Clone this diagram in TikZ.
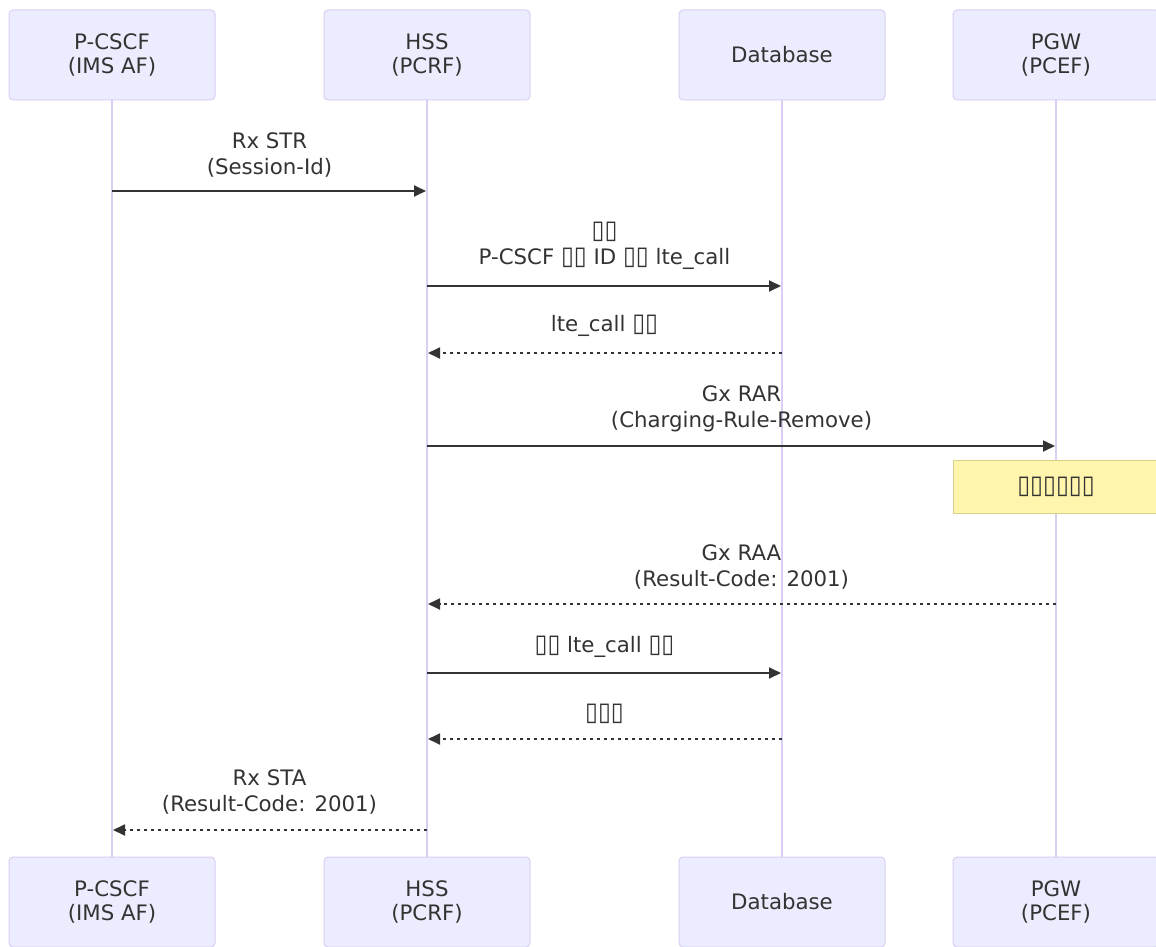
\documentclass[tikz,border=0pt]{standalone}
\usepackage{fontspec}
\setmainfont{DejaVu Sans}
\usetikzlibrary{arrows.meta}
\definecolor{actorfill}{HTML}{ECECFF}
\definecolor{actorline}{HTML}{DACEF3}
\definecolor{sig}{HTML}{333333}
\definecolor{notefill}{HTML}{FFF5AD}
\definecolor{noteline}{HTML}{D6D08A}
\newcommand{\tf}{\scalebox{1.1}[1.2]{▯}}
\tikzset{
  actor/.style={draw=actorline, fill=actorfill, line width=1pt, rounded corners=4pt,
    minimum width=206pt, minimum height=90pt, align=center, text=sig,
    font=\fontsize{21.3}{24}\selectfont, inner sep=0pt},
  life/.style={draw=actorline, line width=1.6pt},
  msg/.style={draw=sig, line width=1.8pt, -{Triangle[length=12pt,width=11pt]}, shorten >=1pt},
  reply/.style={msg, dash pattern=on 3.5pt off 3.5pt},
  lbl/.style={align=center, text=sig, font=\fontsize{21.3}{25.5}\selectfont, inner sep=0pt},
  note/.style={draw=noteline, fill=notefill, line width=1pt, minimum width=206pt,
    minimum height=53pt, text=sig, font=\fontsize{21.3}{24}\selectfont, inner sep=0pt}
}
\begin{document}
\begin{tikzpicture}[x=1pt,y=-1pt]
\useasboundingbox[fill=white] (0,0) rectangle (1156,947);

% lifelines run between the top and bottom participant boxes
\coordinate (pTs) at (112,100);  \coordinate (pBn) at (112,857);
\coordinate (hTs) at (427,100);  \coordinate (hBn) at (427,857);
\coordinate (dTs) at (782,100);  \coordinate (dBn) at (782,857);
\coordinate (gTs) at (1056,100); \coordinate (gBn) at (1056,857);
\draw[life] (pTs) -- (pBn);
\draw[life] (hTs) -- (hBn);
\draw[life] (dTs) -- (dBn);
\draw[life] (gTs) -- (gBn);

% participants, top row
\node[actor] (pT) at (112,55) {P-CSCF\\(IMS AF)};
\node[actor] (hT) at (427,55) {HSS\\(PCRF)};
\node[actor] (dT) at (782,55) {Database};
\node[actor] (gT) at (1056,55) {PGW\\(PCEF)};
% participants, bottom row
\node[actor] (pB) at (112,902) {P-CSCF\\(IMS AF)};
\node[actor] (hB) at (427,902) {HSS\\(PCRF)};
\node[actor] (dB) at (782,902) {Database};
\node[actor] (gB) at (1056,902) {PGW\\(PCEF)};

% message anchor points on the lifelines
\coordinate (p1) at (112,191);  \coordinate (h1) at (427,191);
\coordinate (h2) at (427,286);  \coordinate (d2) at (782,286);
\coordinate (d3) at (782,353);  \coordinate (h3) at (427,353);
\coordinate (h4) at (427,446);  \coordinate (g4) at (1056,446);
\coordinate (g6) at (1056,604); \coordinate (h6) at (427,604);
\coordinate (h7) at (427,673);  \coordinate (d7) at (782,673);
\coordinate (d8) at (782,739);  \coordinate (h8) at (427,739);
\coordinate (h9) at (427,830);  \coordinate (p9) at (112,830);

% messages
\node[lbl] (t1) at (269.5,155) {Rx STR\\(Session-Id)};
\draw[msg] (p1) -- (h1);

\node[lbl] (t2) at (604.5,246) {\tf\tf\\P-CSCF \tf\tf{} ID \tf\tf{} lte\_call};
\draw[msg] (h2) -- (d2);

\node[lbl] (t3) at (604.5,326) {lte\_call \tf\tf};
\draw[reply] (d3) -- (h3);

\node[lbl] (t4) at (741.5,409) {Gx RAR\\(Charging-Rule-Remove)};
\draw[msg] (h4) -- (g4);

\node[note] (n5) at (1056,486.5) {\tf\tf\tf\tf\tf\tf};

\node[lbl] (t6) at (741.5,567) {Gx RAA\\(Result-Code: 2001)};
\draw[reply] (g6) -- (h6);

\node[lbl] (t7) at (604.5,647) {\tf\tf{} lte\_call \tf\tf};
\draw[msg] (h7) -- (d7);

\node[lbl] (t8) at (604.5,714) {\tf\tf\tf};
\draw[reply] (d8) -- (h8);

\node[lbl] (t9) at (269.5,792) {Rx STA\\(Result-Code: 2001)};
\draw[reply] (h9) -- (p9);
\end{tikzpicture}
\end{document}
